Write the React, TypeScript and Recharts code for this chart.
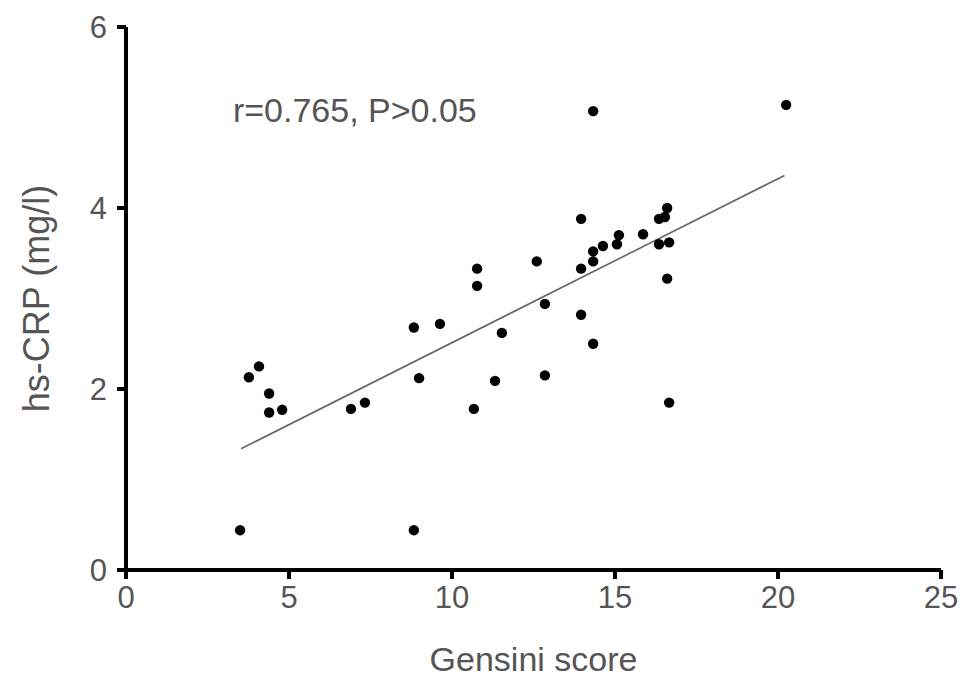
import React from 'react';
import { ScatterChart, Scatter, XAxis, YAxis, ReferenceDot } from 'recharts';

const gensiniScore = [3.5, 8.83, 3.77, 4.08, 4.39, 4.39, 4.79, 6.9, 7.33, 8.83, 8.99, 9.63, 10.67, 10.77, 10.77, 11.32, 11.53, 12.6, 12.85, 12.85, 13.96, 13.96, 13.96, 14.33, 14.33, 14.33, 14.33, 14.63, 15.06, 15.12, 15.86, 16.35, 16.35, 16.53, 16.6, 16.66, 16.6, 16.66, 20.25];
const hsCRP = [0.44, 0.44, 2.13, 2.25, 1.95, 1.74, 1.77, 1.78, 1.85, 2.68, 2.12, 2.72, 1.78, 3.33, 3.14, 2.09, 2.62, 3.41, 2.94, 2.15, 3.88, 3.33, 2.82, 2.5, 3.41, 3.52, 5.07, 3.58, 3.6, 3.7, 3.71, 3.88, 3.6, 3.9, 4.0, 3.62, 3.22, 1.85, 5.14];

const fitX = [3.53, 20.2];
const fitY = [1.34, 4.36];

const xTicks = [0, 5, 10, 15, 20, 25];
const yTicks = [0, 2, 4, 6];
const annotation = 'r=0.765, P>0.05';

const points = gensiniScore.map((x, i) => ({ x, y: hsCRP[i] }));
const fitLine = fitX.map((x, i) => ({ x, y: fitY[i] }));

const FONT = '"Liberation Sans", Arial, Helvetica, sans-serif';
const GRAY = '#555555';

const Dot = (props: any) => {
  const { cx, cy } = props;
  if (cx == null || cy == null) return null;
  return <circle cx={cx} cy={cy} r={5.2} fill="#000" />;
};

const NoShape = () => null;

const YLabel = (props: any) => {
  const vb = props.viewBox || {};
  const cx = vb.x + 36;
  const cy = vb.y + vb.height / 2;
  return (
    <text x={cx} y={cy} transform={`rotate(-90, ${cx}, ${cy})`} textAnchor="middle" dominantBaseline="central" fill={GRAY} fontSize={36} fontFamily={FONT}>
      hs-CRP (mg/l)
    </text>
  );
};

const XLabel = (props: any) => {
  const vb = props.viewBox || {};
  const cx = vb.x + vb.width / 2;
  const y = vb.y + 101;
  return (
    <text x={cx} y={y} textAnchor="middle" fill={GRAY} fontSize={34} fontFamily={FONT}>
      Gensini score
    </text>
  );
};

const AnnLabel = (props: any) => {
  const vb = props.viewBox || {};
  return (
    <text x={vb.x} y={vb.y} textAnchor="start" fill={GRAY} fontSize={34} fontFamily={FONT}>
      {annotation}
    </text>
  );
};

export default function App() {
  return (
    <div style={{ position: 'absolute', left: 0, top: 0, width: 969, height: 683, background: '#fff' }}>
      <ScatterChart width={969} height={683} margin={{ top: 27, right: 28, left: 0, bottom: 0 }}>
        <XAxis
          type="number"
          dataKey="x"
          domain={[0, 25]}
          ticks={xTicks}
          allowDataOverflow
          height={113}
          axisLine={{ stroke: '#000', strokeWidth: 4 }}
          tickLine={{ stroke: '#000', strokeWidth: 4 }}
          tickSize={9}
          tickMargin={7}
          tick={{ fill: GRAY, fontSize: 31, fontFamily: FONT }}
          label={<XLabel />}
        />
        <YAxis
          type="number"
          dataKey="y"
          domain={[0, 6]}
          ticks={yTicks}
          allowDataOverflow
          width={126}
          axisLine={{ stroke: '#000', strokeWidth: 4 }}
          tickLine={{ stroke: '#000', strokeWidth: 4 }}
          tickSize={9}
          tickMargin={10}
          tick={{ fill: GRAY, fontSize: 31, fontFamily: FONT }}
          label={<YLabel />}
        />
        <Scatter data={fitLine} line={{ stroke: '#666', strokeWidth: 1.6 }} shape={NoShape} isAnimationActive={false} />
        <Scatter data={points} shape={Dot} isAnimationActive={false} />
        <ReferenceDot x={3.28} y={4.95} r={0} fill="none" stroke="none" label={<AnnLabel />} />
      </ScatterChart>
    </div>
  );
}
